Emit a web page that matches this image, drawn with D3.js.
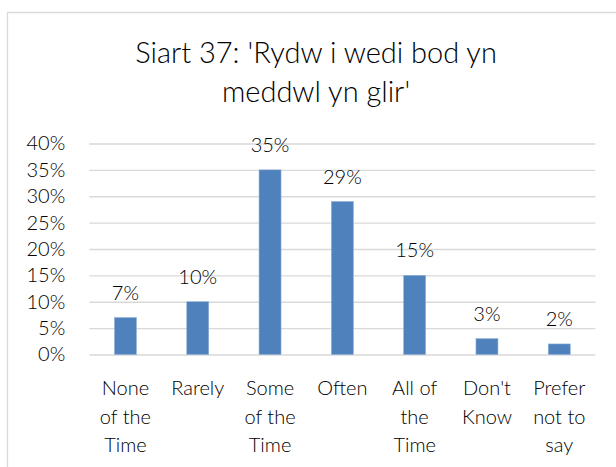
<!DOCTYPE html>
<html>
<head>
<meta charset="utf-8">
<script src="https://cdn.jsdelivr.net/npm/d3@7/dist/d3.min.js"></script>
<style>
  html, body { margin: 0; padding: 0; background: #fff; }
  svg { display: block; }
  text { font-family: Lato, "Open Sans", sans-serif; fill: #000; font-weight: 300; }
</style>
</head>
<body>
<svg id="chart" width="616" height="467"></svg>
<script>
const titleLines = ["Siart 37: 'Rydw i wedi bod yn", "meddwl yn glir'"];
const categories = ["None of the Time", "Rarely", "Some of the Time", "Often", "All of the Time", "Don't Know", "Prefer not to say"];
const categoryLines = [["None", "of the", "Time"], ["Rarely"], ["Some", "of the", "Time"], ["Often"], ["All of", "the", "Time"], ["Don't", "Know"], ["Prefer", "not to", "say"]];
const values = [0.07, 0.10, 0.35, 0.29, 0.15, 0.03, 0.02];
const yTicks = [0, 0.05, 0.10, 0.15, 0.20, 0.25, 0.30, 0.35, 0.40];

const svg = d3.select("#chart");

// chart frame (partially visible)
svg.append("path")
  .attr("d", "M7.5,467 L7.5,12.5 L616,12.5")
  .attr("fill", "none")
  .attr("stroke", "#d9d9d9")
  .attr("stroke-width", 1.3);

// title
const title = svg.append("text")
  .attr("text-anchor", "middle")
  .style("font-size", "29px")
  .style("font-weight", 300);
titleLines.forEach((t, i) => {
  title.append("tspan").attr("x", 316).attr("y", 63 + i * 39).text(t);
});

const x0 = 89.3, x1 = 595.4, yBottom = 354.5, yTop = 143.5;
const x = d3.scaleBand().domain(categories).range([x0, x1]).paddingInner(0.696).paddingOuter(0.348);
const y = d3.scaleLinear().domain([0, 0.4]).range([yBottom, yTop]);

// gridlines
const grid = svg.append("g").attr("transform", `translate(${x0},0)`)
  .call(d3.axisLeft(y).tickValues(yTicks).tickSize(-(x1 - x0)).tickFormat(""));
grid.select(".domain").remove();
grid.selectAll("line").attr("stroke", "#d9d9d9").attr("stroke-width", 1.3);

// y axis labels
const yAxis = svg.append("g").attr("transform", `translate(${x0},0)`)
  .call(d3.axisLeft(y).tickValues(yTicks).tickSize(0).tickPadding(24).tickFormat(d3.format(".0%")));
yAxis.select(".domain").remove();
yAxis.selectAll("text").style("font-size", "20px").style("font-family", "Lato, sans-serif").style("font-weight", 300).attr("fill", "#000");

// bars
svg.append("g").selectAll("rect")
  .data(values)
  .join("rect")
  .attr("x", (d, i) => x(categories[i]))
  .attr("width", x.bandwidth())
  .attr("y", d => y(d))
  .attr("height", d => y(0) - y(d))
  .attr("fill", "#4f81bd")
  .attr("stroke", "#8fb0d8")
  .attr("stroke-width", 0.6);

// value labels
svg.append("g").selectAll("text")
  .data(values)
  .join("text")
  .attr("x", (d, i) => x(categories[i]) + x.bandwidth() / 2)
  .attr("y", d => y(d) - 18)
  .attr("text-anchor", "middle")
  .style("font-size", "20px")
  .text(d => d3.format(".0%")(d));

// x axis labels
const xAxis = svg.append("g").attr("transform", `translate(0,${yBottom})`)
  .call(d3.axisBottom(x).tickSize(0).tickFormat(""));
xAxis.select(".domain").remove();
xAxis.selectAll(".tick").each(function(d, i) {
  const t = d3.select(this).append("text")
    .attr("text-anchor", "middle")
    .style("font-size", "20px")
    .style("font-weight", 300)
    .attr("fill", "#000");
  categoryLines[i].forEach((line, j) => {
    t.append("tspan").attr("x", 0).attr("y", 40.5 + j * 28.7).text(line);
  });
});
</script>
</body>
</html>
